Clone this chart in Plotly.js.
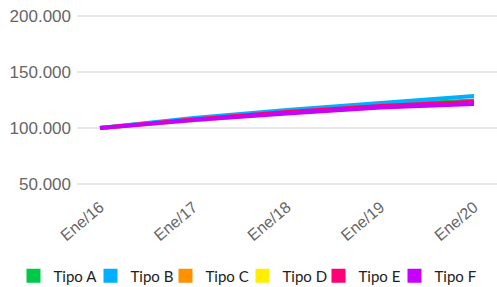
<!DOCTYPE html>
<html>
<head>
<meta charset="utf-8">
<script src="https://cdn.plot.ly/plotly-3.0.1.min.js"></script>
<style>html,body{margin:0;padding:0;background:#fff;}#chart{width:497px;height:287px;}</style>
</head>
<body>
<div id="chart"></div>
<script>
const categories = ['Ene/16', 'Ene/17', 'Ene/18', 'Ene/19', 'Ene/20'];
const seriesNames = ['Tipo A', 'Tipo B', 'Tipo C', 'Tipo D', 'Tipo E', 'Tipo F'];
const tipoA = [100000, 108000, 115000, 120500, 124500];
const tipoB = [100000, 108900, 116100, 122300, 128600];
const tipoC = [100000, 107300, 113800, 119000, 122800];
const tipoD = [100000, 107200, 113500, 118700, 122500];
const tipoE = [100000, 107600, 114300, 119600, 123500];
const tipoF = [100000, 107100, 112900, 118300, 121400];
const yTicks = [50000, 100000, 150000, 200000];

const colors = ['#00c94a', '#00b0ff', '#ff9100', '#ffee00', '#ff0077', '#c800ff'];
const values = [tipoA, tipoB, tipoC, tipoD, tipoE, tipoF];
const legendIds = ['legend', 'legend2', 'legend3', 'legend4', 'legend5', 'legend6'];
const legendLeftPx = [13.5, 90.5, 165.5, 242.5, 318.5, 394.5];

const marginL = 77, plotW = 420, marginT = 14, marginB = 101, H = 287;
const plotH = H - marginT - marginB;
const plotBottom = marginT + plotH;

const traces = [];
values.forEach((v, i) => {
  traces.push({
    type: 'scatter', mode: 'lines', x: categories, y: v, name: seriesNames[i],
    line: {color: colors[i], width: 4}, showlegend: false,
    hoverinfo: 'none'
  });
});
values.forEach((v, i) => {
  traces.push({
    type: 'scatter', mode: 'markers', x: [null], y: [null], name: seriesNames[i],
    marker: {color: colors[i], symbol: 'square', size: 14}, showlegend: true,
    legend: legendIds[i], hoverinfo: 'none'
  });
});

const layout = {
  width: 497, height: H,
  margin: {l: marginL, r: 0, t: marginT, b: marginB, pad: 0, autoexpand: false},
  paper_bgcolor: '#fff', plot_bgcolor: '#fff',
  separators: ',.',
  showlegend: true,
  xaxis: {
    type: 'category', range: [-0.246, 4.246],
    showgrid: false, zeroline: false, showline: false, ticks: '',
    tickangle: -40, ticklabelstandoff: 8,
    tickfont: {family: '"Liberation Sans", Arial, sans-serif', size: 16, color: '#666'}
  },
  yaxis: {
    range: [48500, 201500], tickvals: yTicks, tickformat: ',d',
    showgrid: true, gridcolor: '#e8e8e8', gridwidth: 2,
    zeroline: false, showline: false, ticks: '', ticklabelstandoff: 5,
    tickfont: {family: '"Liberation Sans", Arial, sans-serif', size: 17, color: '#666'}
  }
};

legendIds.forEach((id, i) => {
  layout[id] = {
    orientation: 'h', xref: 'paper', yref: 'paper',
    x: (legendLeftPx[i] - marginL) / plotW, xanchor: 'left',
    y: -(276 - plotBottom) / plotH, yanchor: 'middle',
    bgcolor: 'rgba(0,0,0,0)',
    font: {family: 'Lato, sans-serif', size: 15, color: '#222'},
    itemclick: false, itemdoubleclick: false
  };
});

Plotly.newPlot('chart', traces, layout, {displayModeBar: false, staticPlot: true});
</script>
</body>
</html>
